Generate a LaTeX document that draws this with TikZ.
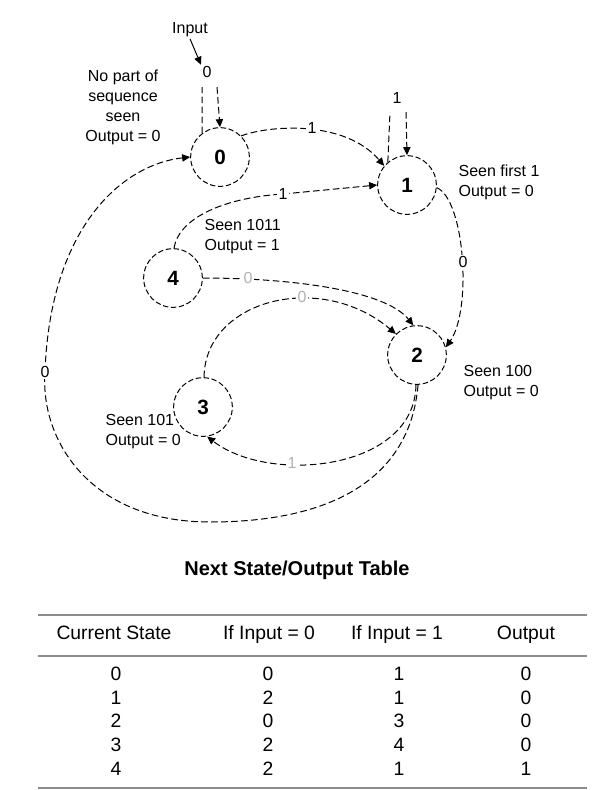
\documentclass[tikz,border=0pt]{standalone}
\usepackage{fontspec}
\setmainfont{Liberation Sans}
\usetikzlibrary{arrows.meta}
\begin{document}
\begin{tikzpicture}[x=0.75pt,y=-0.75pt,
  stnode/.style={circle,draw,line width=0.75pt,dash pattern=on 4pt off 2pt,minimum size=44pt,inner sep=0pt,font=\fontsize{15.5}{18}\selectfont\bfseries},
  conn/.style={line width=0.75pt,dash pattern=on 5pt off 2.5pt},
  conna/.style={conn,-{Triangle[length=6pt,width=5.5pt]}},
  solida/.style={line width=0.75pt,-{Triangle[length=6pt,width=5.5pt]}},
  lbl/.style={font=\fontsize{12}{15}\selectfont,inner sep=1pt},
  elbl/.style={lbl,fill=white},
  flbl/.style={lbl,text=black!30},
  desc/.style={lbl,align=left,anchor=west},
  tb/.style={font=\fontsize{14.5}{17}\selectfont,anchor=base},
  rulel/.style={draw=black!45,line width=1pt}]
\useasboundingbox[fill=white] (0,0) rectangle (592,790);

% states
\node[stnode] (s0) at (220,157) {0};
\node[stnode] (s1) at (407,185) {1};
\node[stnode] (s2) at (417,355) {2};
\node[stnode] (s3) at (203,407) {3};
\node[stnode] (s4) at (173,278) {4};

% descriptions
\node[lbl] (inp) at (190,30) {Input};
\node[lbl,align=center] (d0) at (123,107) {No part of\\sequence\\seen\\Output = 0};
\node[desc] (d1) at (457,182) {Seen first 1\\Output = 0};
\node[desc] (d4) at (203,237) {Seen 1011\\Output = 1};
\node[desc] (d2) at (462,383) {Seen 100\\Output = 0};
\node[desc] (d3) at (104,432) {Seen 101\\Output = 0};

% self loop on 0
\node[lbl] (lp0) at (207,72) {0};
\coordinate (l0a) at (202,87);
\coordinate (l0b) at (217,87);
\draw[conn] (s0.127) -- (l0a);
\draw[conna] (l0b) -- (s0.90);
\draw[solida] (inp.south) -- (lp0.north west);

% self loop on 1
\node[lbl] (lp1) at (397,98) {1};
\coordinate (l1a) at (390,112);
\coordinate (l1b) at (406,112);
\draw[conn] (s1.130) -- (l1a);
\draw[conna] (l1b) -- (s1.90);

% 0 -> 1
\draw[conna] (s0.45) .. controls (270,125) and (345,120) .. (s1.140);
\node[elbl] (e01) at (312,128) {1};

% 4 -> 1
\coordinate (m41) at (283,194);
\draw[conn] (s4.88) .. controls (178,220) and (220,198) .. (m41);
\draw[conna] (m41) -- (s1.180);
\node[elbl] (e41) at (283,194) {1};

% 1 -> 2
\draw[conna] (s1.-5) .. controls (465,200) and (472,310) .. (s2.15);
\node[elbl] (e12) at (463,262) {0};

% 4 -> 2
\draw[conna] (s4.0) .. controls (290,278) and (385,290) .. (s2.97);
\node[flbl,fill=white] (e42) at (248,278) {0};

% 3 -> 2
\draw[conna] (s3.88) .. controls (205,300) and (320,270) .. (s2.135);
\node[flbl,fill=white] (e32) at (302,297) {0};

% 2 -> 3
\draw[conna] (s2.268) .. controls (415,470) and (270,485) .. (s3.-82);
\node[flbl,fill=white] (e23) at (292,463) {1};

% 2 -> 0
\coordinate (b20) at (210,522);
\coordinate (w20) at (45,372);
\draw[conna] (s2.272) .. controls (410,480) and (330,522) .. (b20)
   .. controls (90,522) and (40,440) .. (w20)
   .. controls (50,230) and (120,165) .. (s0.180);
\node[elbl] (e20) at (45,372) {0};

% table
\node[font=\fontsize{15}{18}\selectfont\bfseries] (title) at (297,570) {Next State/Output Table};
\draw[rulel] (38,615) -- (587,615);
\draw[rulel] (38,656) -- (587,656);
\draw[rulel] (38,788) -- (587,788);
\node[tb] (h1) at (114,639) {Current State};
\node[tb] (h2) at (269,639) {If Input = 0};
\node[tb] (h3) at (397,639) {If Input = 1};
\node[tb] (h4) at (526,639) {Output};
\foreach \y/\a/\b/\c/\d in {680/0/0/1/0, 704/1/2/1/0, 727/2/0/3/0, 751/3/2/4/0, 775/4/2/1/1}{
  \node[tb] at (116,\y) {\a};
  \node[tb] at (268,\y) {\b};
  \node[tb] at (399,\y) {\c};
  \node[tb] at (526,\y) {\d};
}
\end{tikzpicture}
\end{document}
